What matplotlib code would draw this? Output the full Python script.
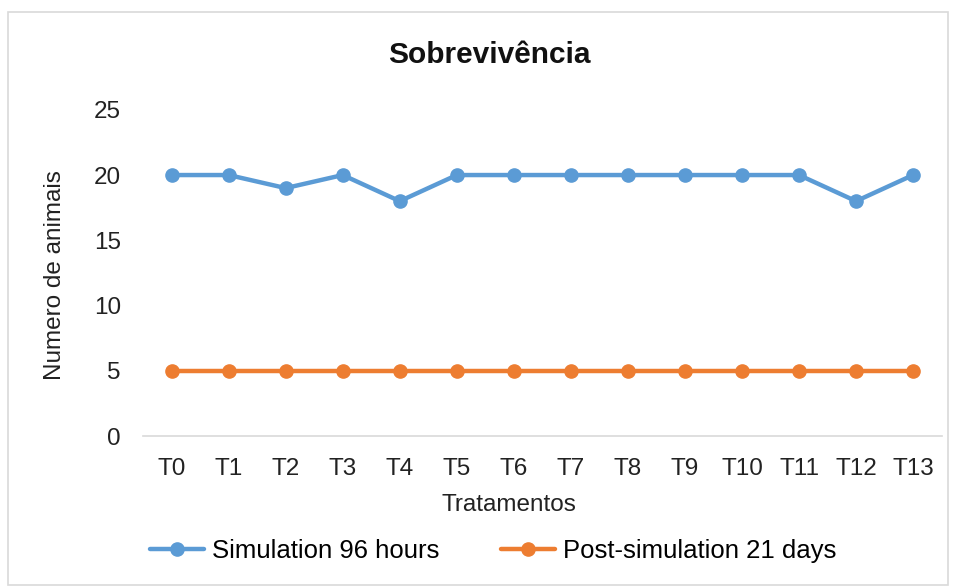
import matplotlib
matplotlib.use("Agg")
import matplotlib.pyplot as plt
from matplotlib.patches import Rectangle

categories = ["T0", "T1", "T2", "T3", "T4", "T5", "T6", "T7", "T8", "T9", "T10", "T11", "T12", "T13"]
sim_96h = [20, 20, 19, 20, 18, 20, 20, 20, 20, 20, 20, 20, 18, 20]
post_21d = [5, 5, 5, 5, 5, 5, 5, 5, 5, 5, 5, 5, 5, 5]

plt.rcParams['font.family'] = ['Liberation Sans', 'DejaVu Sans']

fig = plt.figure(figsize=(9.54, 5.87), dpi=100)
ax = fig.add_axes([0.150, 0.257, 0.837, 0.556])

x = list(range(len(categories)))
ax.plot(x, sim_96h, color='#5B9BD5', lw=3.2, marker='o', ms=9.5, label='Simulation 96 hours', solid_capstyle='round')
ax.plot(x, post_21d, color='#ED7D31', lw=3.2, marker='o', ms=9.5, label='Post-simulation 21 days', solid_capstyle='round')

ax.set_xlim(-0.5, len(categories) - 0.5)
ax.set_ylim(0, 25)
ax.set_yticks([0, 5, 10, 15, 20, 25])
ax.set_xticks(x)
ax.set_xticklabels(categories)
ax.tick_params(axis='both', length=0, labelsize=17.5, colors='#222222')
ax.tick_params(axis='x', pad=16)
ax.tick_params(axis='y', pad=16)
for s in ['top', 'right', 'left']:
    ax.spines[s].set_visible(False)
ax.spines['bottom'].set_color('#D9D9D9')
ax.spines['bottom'].set_linewidth(1.2)

fig.text(0.533, 0.140, 'Tratamentos', fontsize=17.5, color='#222222', ha='center', va='center')
fig.text(0.058, 0.531, 'Numero de animais', fontsize=17.5, color='#222222', ha='center', va='center', rotation=90)
fig.text(0.513, 0.907, 'Sobrevivência', fontsize=21.5, fontweight='bold', ha='center', va='center', color='#111111')

leg = fig.legend(loc='center', bbox_to_anchor=(0.517, 0.062), ncol=2, frameon=False, fontsize=18.5,
                 handlelength=2.1, columnspacing=2.4, handletextpad=0.3)

fig.patches.append(Rectangle((0.008, 0.004), 0.986, 0.975, transform=fig.transFigure,
                             fill=False, edgecolor='#D9D9D9', lw=1.2))

fig.savefig('out.png', dpi=100)
